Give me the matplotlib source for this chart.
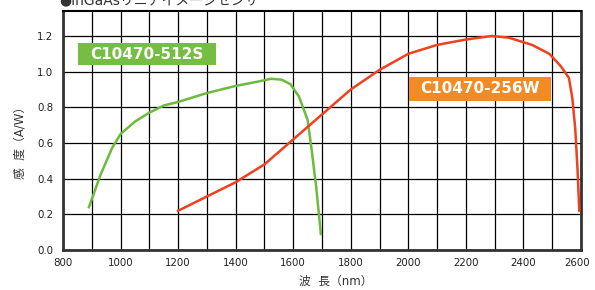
import matplotlib
matplotlib.use("Agg")
import matplotlib.pyplot as plt
import matplotlib.transforms as mtransforms
from matplotlib.patches import Rectangle

plt.rcParams['font.family'] = ['DejaVu Sans', 'Noto Sans CJK JP']

# C10470-512S (green)
wl_512s = [890, 930, 970, 1000, 1050, 1100, 1150, 1200, 1300, 1400, 1480, 1523,
           1560, 1590, 1620, 1650, 1665, 1680, 1696]
resp_512s = [0.24, 0.42, 0.57, 0.65, 0.72, 0.77, 0.81, 0.83, 0.88, 0.92, 0.945, 0.96,
             0.955, 0.93, 0.86, 0.73, 0.55, 0.35, 0.09]

# C10470-256W (red)
wl_256w = [1200, 1300, 1400, 1500, 1600, 1700, 1800, 1900, 2000, 2100, 2200, 2290,
           2350, 2430, 2490, 2530, 2558, 2570, 2580, 2588, 2594]
resp_256w = [0.22, 0.3, 0.38, 0.48, 0.62, 0.76, 0.9, 1.01, 1.1, 1.15, 1.18, 1.2,
             1.19, 1.15, 1.1, 1.03, 0.965, 0.85, 0.68, 0.45, 0.22]

x_ticks = list(range(800, 2601, 200))
y_ticks = [0.0, 0.2, 0.4, 0.6, 0.8, 1.0, 1.2]

fig = plt.figure(figsize=(5.95, 2.90), dpi=100)
ax = fig.add_axes([63 / 595, 40 / 290, 518 / 595, 239 / 290])

ax.plot(wl_512s, resp_512s, color='#6dbb3c', lw=1.8, zorder=3)
ax.plot(wl_256w, resp_256w, color='#f0401e', lw=1.8, zorder=3)

ax.set_xlim(800, 2600)
ax.set_ylim(0, 1.34)
ax.set_xticks(x_ticks)
ax.set_xticks(range(800, 2601, 100), minor=True)
ax.set_yticks(y_ticks)
ax.set_xticklabels([str(v) for v in x_ticks], fontsize=7.4, color='#222222')
ax.set_yticklabels(['%.1f' % v for v in y_ticks], fontsize=7.4, color='#222222')
ax.tick_params(which='both', length=0)
ax.tick_params(axis='x', pad=6)
ax.tick_params(axis='y', pad=7)
# last x label sits a little left of the spine, as in the original
last = ax.get_xticklabels()[-1]
last.set_transform(last.get_transform() +
                   mtransforms.ScaledTranslation(-4 / 100, 0, fig.dpi_scale_trans))
ax.grid(which='both', axis='x', color='black', lw=0.9)
ax.grid(which='major', axis='y', color='black', lw=0.9)
ax.set_axisbelow(True)
for side in ['left', 'bottom', 'right']:
    ax.spines[side].set_linewidth(2)
    ax.spines[side].set_color('#333333')
ax.spines['top'].set_linewidth(1.5)
ax.spines['top'].set_color('black')

ax.set_xlabel('波  長（nm）', fontsize=8.5, color='#333333')
ax.xaxis.set_label_coords(0.527, -0.105)
ax.set_ylabel('感  度（A/W）', fontsize=8.5, color='#333333')
ax.yaxis.set_label_coords(-0.07, 0.46)

# label boxes
ax.add_patch(Rectangle((0.029, 0.774), 0.266, 0.092, transform=ax.transAxes,
                       fc='#76bd43', ec='none', zorder=4))
ax.text(0.162, 0.82, 'C10470-512S', transform=ax.transAxes, fontsize=11,
        fontweight='bold', color='white', va='center', ha='center', zorder=5)
ax.add_patch(Rectangle((0.668, 0.623), 0.274, 0.101, transform=ax.transAxes,
                       fc='#f28a25', ec='none', zorder=4))
ax.text(0.805, 0.674, 'C10470-256W', transform=ax.transAxes, fontsize=11,
        fontweight='bold', color='white', va='center', ha='center', zorder=5)

fig.text(0.1, 1.0, '●InGaAsリニアイメージセンサ', fontsize=10, color='#333333',
         va='center', ha='left')

fig.savefig('out.png', dpi=100)
